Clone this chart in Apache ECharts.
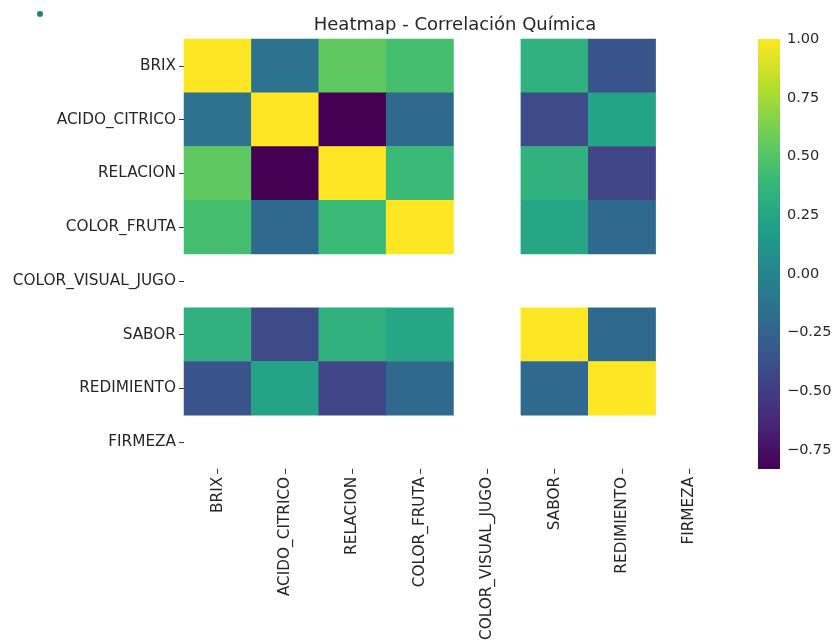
<!DOCTYPE html>
<html>
<head>
<meta charset="utf-8">
<script src="https://cdn.jsdelivr.net/npm/echarts@6/dist/echarts.min.js"></script>
<style>html,body{margin:0;padding:0;background:#fff;}#c{width:838px;height:643px;}</style>
</head>
<body>
<div id="c"></div>
<script>
// Variables (rows and columns of the correlation matrix)
const variables = ['BRIX','ACIDO_CITRICO','RELACION','COLOR_FRUTA','COLOR_VISUAL_JUGO','SABOR','REDIMIENTO','FIRMEZA'];
// Correlation rows (null = NaN, not drawn)
const rowBrix        = [ 1.00, -0.14,  0.54,  0.45, null,  0.33, -0.35, null];
const rowAcido       = [-0.14,  1.00, -0.83, -0.21, null, -0.41,  0.23, null];
const rowRelacion    = [ 0.54, -0.83,  1.00,  0.41, null,  0.34, -0.45, null];
const rowColorFruta  = [ 0.45, -0.21,  0.41,  1.00, null,  0.25, -0.21, null];
const rowColorVisual = [ null,  null,  null,  null, null,  null,  null, null];
const rowSabor       = [ 0.33, -0.41,  0.34,  0.25, null,  1.00, -0.21, null];
const rowRedimiento  = [-0.35,  0.23, -0.45, -0.21, null, -0.21,  1.00, null];
const rowFirmeza     = [ null,  null,  null,  null, null,  null,  null, null];
const rows = [rowBrix,rowAcido,rowRelacion,rowColorFruta,rowColorVisual,rowSabor,rowRedimiento,rowFirmeza];
// Colour scale range and colourbar tick labels
const colorMin = -0.83;
const colorMax = 1.0;
const colorbarTicks = [-0.75,-0.5,-0.25,0,0.25,0.5,0.75,1.0];

const viridis = ['#440154','#482878','#3e4989','#31688e','#26828e','#1f9e89','#35b779','#6ece58','#b5de2b','#fde725'];

const heatData = [];
rows.forEach((r, i) => r.forEach((v, j) => { if (v !== null) heatData.push([j, i, v]); }));

const font = 'DejaVu Sans';
const tickFont = 15.3;
const chart = echarts.init(document.getElementById('c'));
const fmt = v => (v < 0 ? '\u2212' : '') + Math.abs(v).toFixed(2);

chart.setOption({
  animation: false,
  backgroundColor: '#fff',
  title: {
    text: 'Heatmap - Correlación Química',
    left: 450, top: 11, textAlign: 'center',
    textStyle: { fontFamily: font, fontSize: 18, fontWeight: 'normal', color: '#262626' }
  },
  graphic: [{ type: 'circle', shape: { cx: 40, cy: 14, r: 3 }, style: { fill: '#14897a' } }],
  grid: [
    { left: 184, top: 39, width: 539, height: 430 },
    { left: 758, top: 39, width: 22, height: 430 }
  ],
  xAxis: [
    { type: 'category', data: variables, gridIndex: 0,
      axisLine: { show: false }, splitLine: { show: false },
      axisTick: { show: true, alignWithLabel: true, length: 5, lineStyle: { color: '#333' } },
      axisLabel: { rotate: 90, margin: 8, fontFamily: font, fontSize: tickFont, color: '#262626', interval: 0 } },
    { type: 'value', gridIndex: 1, min: 0, max: 1, show: false }
  ],
  yAxis: [
    { type: 'category', data: variables, gridIndex: 0, inverse: true,
      axisLine: { show: false }, splitLine: { show: false },
      axisTick: { show: true, alignWithLabel: true, length: 5, lineStyle: { color: '#333' } },
      axisLabel: { margin: 8, fontFamily: font, fontSize: tickFont, color: '#262626', interval: 0 } },
    { type: 'value', gridIndex: 1, min: colorMin, max: colorMax, position: 'right',
      axisLine: { show: false }, splitLine: { show: false },
      axisTick: { show: true, length: 5, customValues: colorbarTicks, lineStyle: { color: '#333' } },
      axisLabel: { show: true, margin: 7, customValues: colorbarTicks, formatter: fmt,
                   fontFamily: font, fontSize: 14.5, color: '#262626' } }
  ],
  visualMap: {
    show: false, seriesIndex: 0, min: colorMin, max: colorMax, dimension: 2,
    inRange: { color: viridis }
  },
  series: [
    { type: 'heatmap', xAxisIndex: 0, yAxisIndex: 0, data: heatData, itemStyle: { borderWidth: 0 } },
    { type: 'custom', xAxisIndex: 1, yAxisIndex: 1, data: [[0, colorMin, 1, colorMax]],
      renderItem: function (params, api) {
        const p1 = api.coord([api.value(0), api.value(3)]);
        const p2 = api.coord([api.value(2), api.value(1)]);
        const stops = viridis.slice().reverse().map((c, i) => ({ offset: i / (viridis.length - 1), color: c }));
        return { type: 'rect', shape: { x: p1[0], y: p1[1], width: p2[0] - p1[0], height: p2[1] - p1[1] },
                 style: { fill: new echarts.graphic.LinearGradient(0, 0, 0, 1, stops) } };
      } }
  ]
});
</script>
</body>
</html>
